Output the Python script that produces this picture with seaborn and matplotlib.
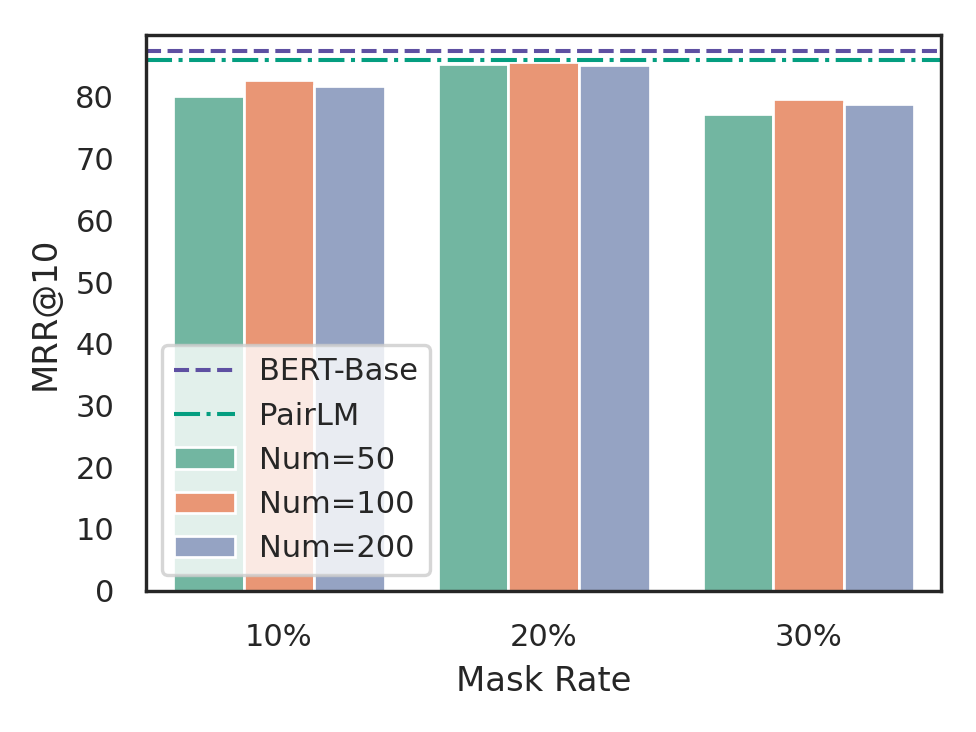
import numpy as np
import pandas as pd
import matplotlib
matplotlib.use("Agg")
import matplotlib.pyplot as plt
import seaborn as sns

# data
mask_rates = ["10%", "20%", "30%"]
num_labels = ["Num=50", "Num=100", "Num=200"]
num50 = [80.2, 85.4, 77.3]
num100 = [82.8, 85.6, 79.6]
num200 = [81.8, 85.1, 78.9]
bert_base = 87.4
pairlm = 86.0

df = pd.DataFrame({
    "Mask Rate": mask_rates * 3,
    "Num": [num_labels[0]] * 3 + [num_labels[1]] * 3 + [num_labels[2]] * 3,
    "MRR@10": num50 + num100 + num200,
})

sns.set_theme(style="white")
plt.rcParams["font.family"] = ["DejaVu Sans"]

fig, ax = plt.subplots(figsize=(4, 3), dpi=244)
fig.subplots_adjust(left=0.15, right=0.964, top=0.952, bottom=0.193)

ax.axhline(bert_base, color="#5e50a2", linestyle="--", lw=1.2, label="BERT-Base")
ax.axhline(pairlm, color="#049e80", linestyle="-.", lw=1.2, label="PairLM")

sns.barplot(data=df, x="Mask Rate", y="MRR@10", hue="Num", palette="Set2",
            edgecolor="white", linewidth=0.8, ax=ax)

ax.set_ylim(0, 90)
ax.set_yticks(np.arange(0, 81, 10))
ax.tick_params(labelsize=9)
ax.set_xlabel("Mask Rate", fontsize=10)
ax.set_ylabel("MRR@10", fontsize=10)
for s in ax.spines.values():
    s.set_linewidth(1.0)
    s.set_color("#262626")

ax.legend(loc="lower left", fontsize=9)

plt.savefig("out.png", dpi=244)
